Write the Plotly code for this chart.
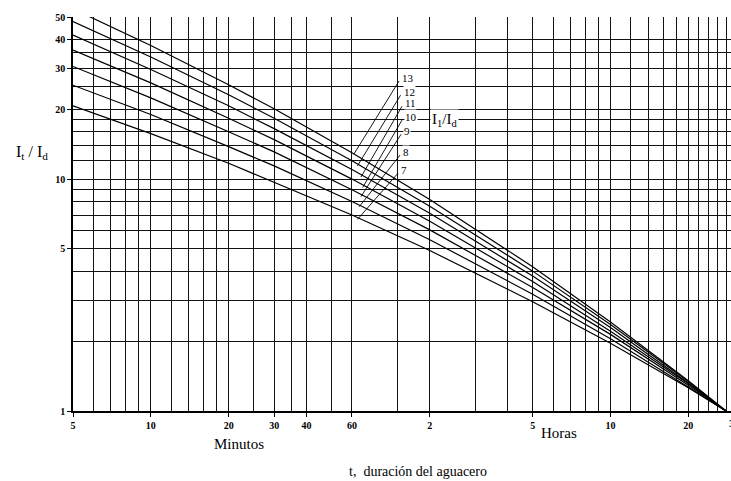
import math
import plotly.graph_objects as go

# Duration of the storm (minutes) at which each curve was read
durations_min = [5, 10, 20, 30, 60, 120, 300, 600, 1200, 1680]

# It/Id for each value of the parameter I1/Id
ratio_labels = ["7", "8", "9", "10", "11", "12", "13"]
curve_7 = [20.7, 15.7, 11.7, 9.7, 7.0, 4.92, 2.96, 1.96, 1.26, 1.0]
curve_8 = [25.4, 19.0, 13.8, 11.4, 8.0, 5.48, 3.19, 2.05, 1.27, 1.0]
curve_9 = [30.6, 22.4, 16.0, 13.1, 9.0, 6.04, 3.41, 2.14, 1.29, 1.0]
curve_10 = [36.0, 26.0, 18.3, 14.8, 10.0, 6.58, 3.62, 2.21, 1.31, 1.0]
curve_11 = [41.8, 29.7, 20.7, 16.5, 11.0, 7.12, 3.82, 2.29, 1.32, 1.0]
curve_12 = [47.8, 33.6, 23.1, 18.3, 12.0, 7.64, 4.01, 2.36, 1.34, 1.0]
curve_13 = [54.2, 37.7, 25.5, 20.1, 13.0, 8.16, 4.19, 2.42, 1.35, 1.0]
curves = [curve_7, curve_8, curve_9, curve_10, curve_11, curve_12, curve_13]

# Leader lines: start on the curve (duration, value) and end at the label
leader_start_t = [63, 64, 65, 66, 65, 63, 61]
leader_start_v = [6.7, 7.6, 8.4, 9.2, 10.2, 11.4, 12.8]
leader_end_t = [90.4, 92.1, 92.9, 93.7, 93.7, 92.5, 91.2]
leader_end_v = [10.6, 12.7, 15.6, 17.96, 20.6, 23.0, 26.45]

# Axis ticks and grid
x_tick_vals = [5, 10, 20, 30, 40, 60, 120, 300, 600, 1200]
x_tick_text = ["5", "10", "20", "30", "40", "60", "2", "5", "10", "20"]
x_grid_vals = [6, 7, 8, 9, 12, 14, 16, 18, 25, 35, 50, 90, 180, 240, 360, 420,
               480, 540, 720, 840, 960, 1080, 1320, 1440, 1560, 1680]
y_tick_vals = [1, 5, 10, 20, 30, 40, 50]
y_tick_text = ["1", "5", "10", "20", "30", "40", "50"]
y_grid_vals = [2, 3, 4, 6, 7, 8, 9, 12, 14, 16, 18, 25, 35]

SERIF = "Liberation Serif"
INK = "#000000"
GRID = "#111111"
TICK_FONT = dict(family=SERIF, size=10, color=INK, weight="bold")

# Horizontal scale of the log x axis (pixels per decade) and its left end
X_LEFT = math.log10(5)
X_SPAN = 658 / 258.5

fig = go.Figure()

for vals in curves:
    fig.add_trace(go.Scatter(x=durations_min, y=vals, mode="lines",
                             line=dict(color=INK, width=1.2),
                             hoverinfo="skip", showlegend=False))

for t0, v0, t1, v1 in zip(leader_start_t, leader_start_v, leader_end_t, leader_end_v):
    fig.add_trace(go.Scatter(x=[t0, t1], y=[v0, v1], mode="lines",
                             line=dict(color=INK, width=0.9),
                             hoverinfo="skip", showlegend=False))

annotations = []
for lab, t1, v1 in zip(ratio_labels, leader_end_t, leader_end_v):
    annotations.append(dict(x=math.log10(t1), y=math.log10(v1), xref="x", yref="y",
                            text=lab, showarrow=False, xanchor="left", yanchor="middle",
                            xshift=2, yshift=3, bgcolor="white", borderpad=0,
                            font=dict(family=SERIF, size=11, color=INK)))

annotations.append(dict(x=math.log10(137), y=math.log10(17.96), xref="x", yref="y",
                        text="I<sub>1</sub>/I<sub>d</sub>", showarrow=False,
                        xanchor="center", yanchor="middle", bgcolor="white",
                        borderpad=1, font=dict(family=SERIF, size=15, color=INK)))

# Tick label for 30 h, just past the right end of the axis
x_30h = (math.log10(1800) - X_LEFT) / X_SPAN
annotations.append(dict(x=x_30h, y=0, xref="paper", yref="paper",
                        text="30", showarrow=False, xanchor="center", yanchor="top",
                        yshift=-5, font=TICK_FONT))

annotations += [
    dict(x=-0.062, y=0.655, xref="paper", yref="paper", xanchor="center",
         yanchor="middle", text="I<sub>t</sub> / I<sub>d</sub>", showarrow=False,
         font=dict(family=SERIF, size=16, color=INK)),
    dict(x=math.log10(22), y=0, xref="x", yref="paper", text="Minutos",
         showarrow=False, xanchor="center", yanchor="top", yshift=-23,
         font=dict(family=SERIF, size=15, color=INK)),
    dict(x=math.log10(380), y=0, xref="x", yref="paper", text="Horas",
         showarrow=False, xanchor="center", yanchor="top", yshift=-12,
         font=dict(family=SERIF, size=15, color=INK)),
    dict(x=math.log10(108), y=0, xref="x", yref="paper",
         text="t,&#160;&#160;duración del aguacero", showarrow=False,
         yanchor="top", yshift=-51, xanchor="center",
         font=dict(family=SERIF, size=14, color=INK)),
]

fig.update_layout(
    width=731, height=481,
    margin=dict(l=73, r=0, t=17, b=70),
    paper_bgcolor="white", plot_bgcolor="white",
    annotations=annotations,
    xaxis=dict(type="log", range=[X_LEFT, X_LEFT + X_SPAN],
               tickmode="array", tickvals=x_tick_vals, ticktext=x_tick_text,
               ticks="outside", ticklen=4, tickcolor=INK, tickwidth=1,
               showgrid=True, gridcolor=GRID, gridwidth=1,
               showline=True, linecolor=INK, linewidth=1.5,
               zeroline=False, tickfont=TICK_FONT,
               minor=dict(tickmode="array", tickvals=x_grid_vals, showgrid=True,
                          gridcolor=GRID, gridwidth=1, ticks="")),
    yaxis=dict(type="log", range=[0, math.log10(50)],
               tickmode="array", tickvals=y_tick_vals, ticktext=y_tick_text,
               ticks="outside", ticklen=4, tickcolor=INK, tickwidth=1,
               showgrid=True, gridcolor=GRID, gridwidth=1,
               showline=True, linecolor=INK, linewidth=1.5,
               zeroline=False, tickfont=TICK_FONT,
               minor=dict(tickmode="array", tickvals=y_grid_vals, showgrid=True,
                          gridcolor=GRID, gridwidth=1, ticks="")),
)

fig.write_html("out.html")
